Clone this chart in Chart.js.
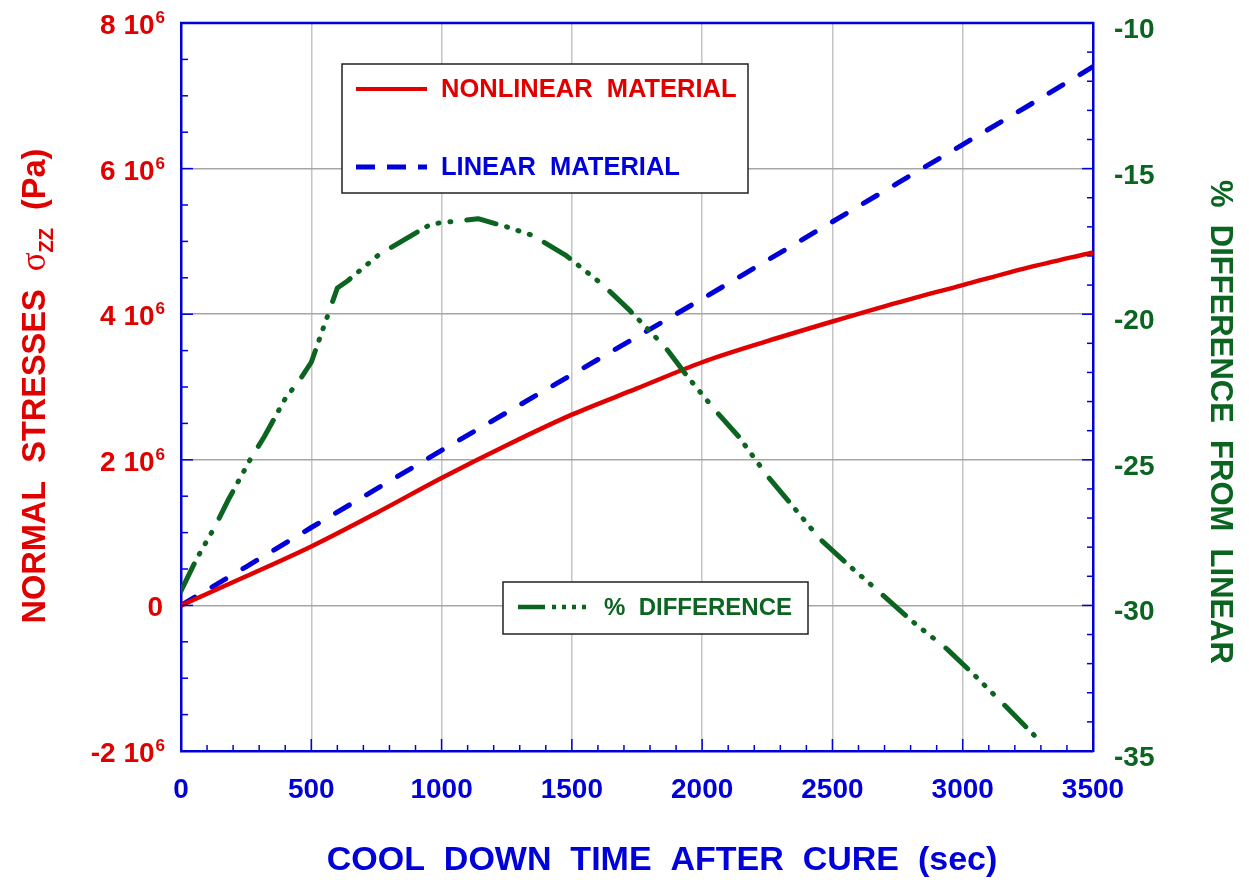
<!DOCTYPE html>
<html><head><meta charset="utf-8">
<script src="https://cdn.jsdelivr.net/npm/chart.js@4"></script>
<style>html,body{margin:0;padding:0;background:#fff}canvas{display:block}</style>
</head><body>
<canvas id="c" width="1249" height="880"></canvas>
<script>
// ---- data ----
const timeSec = [0,250,500,750,1000,1250,1500,1750,2000,2250,2500,2750,3000,3250,3500];
const nonlinearStressPa = [0,0.40e6,0.81e6,1.27e6,1.75e6,2.20e6,2.62e6,2.98e6,3.34e6,3.63e6,3.90e6,4.16e6,4.40e6,4.64e6,4.85e6];
const linearStressPa = [0,0.53e6,1.07e6,1.60e6,2.13e6,2.65e6,3.17e6,3.69e6,4.21e6,4.74e6,5.27e6,5.80e6,6.33e6,6.86e6,7.40e6];
const diffTimeSec = [0,60,130,180,265,320,400,460,500,600,640,760,960,1140,1250,1350,1480,1620,1720,1860,1940,2050,2140,2250,2330,2450,2560,2700,2800,2940,3040,3180,3290];
const diffPercent = [-29.5,-28.4,-27.3,-26.4,-25.0,-24.2,-22.9,-22.2,-21.65,-19.1,-18.85,-17.95,-16.9,-16.72,-17.0,-17.3,-18.0,-19.0,-19.85,-21.15,-22.1,-23.3,-24.2,-25.55,-26.4,-27.7,-28.6,-29.7,-30.5,-31.5,-32.35,-33.6,-34.6];
const stressTickValues = [-2e6,0,2e6,4e6,6e6,8e6];
const stressTickMantissa = ['-2','0','2','4','6','8'];
const diffTickValues = [-35,-30,-25,-20,-15,-10];
const seriesNames = ['NONLINEAR  MATERIAL','LINEAR  MATERIAL','%  DIFFERENCE'];
const xTitle = 'COOL  DOWN  TIME  AFTER  CURE  (sec)';
const rightTitle = '%  DIFFERENCE  FROM  LINEAR';

const RED = '#e00000', BLUE = '#0000d8', GREEN = '#0b6420';
const FONT = '"Liberation Sans", Arial, sans-serif';

const pts = (xs, ys) => xs.map((v, i) => ({x: v, y: ys[i]}));

const deco = {
  id: 'deco',
  afterDatasetsDraw(chart) {
    const {ctx, chartArea: a, scales: {x, y, y2}} = chart;
    ctx.save();
    ctx.strokeStyle = BLUE; ctx.lineWidth = 1.5;
    const seg = (x1, y1, x2, y2_) => { ctx.beginPath(); ctx.moveTo(x1, y1); ctx.lineTo(x2, y2_); ctx.stroke(); };
    for (let t = 0; t <= 3500; t += 100) {
      const px = x.getPixelForValue(t);
      seg(px, a.bottom, px, a.bottom - (t % 500 === 0 ? 12 : 6));
    }
    for (let v = -2e6; v <= 8e6; v += 0.5e6) {
      const py = y.getPixelForValue(v);
      seg(a.left, py, a.left + (v % 2e6 === 0 ? 12 : 7), py);
    }
    for (let v = -35; v <= -10; v += 1) {
      const py = y2.getPixelForValue(v);
      seg(a.right, py, a.right - (v % 5 === 0 ? 11 : 6), py);
    }
    ctx.lineWidth = 2.5;
    seg(a.left - 1, a.top, a.right + 1, a.top);

    // legend box 1
    ctx.fillStyle = '#fff'; ctx.strokeStyle = '#222'; ctx.lineWidth = 1.5;
    ctx.fillRect(342, 64, 406, 129); ctx.strokeRect(342, 64, 406, 129);
    ctx.lineCap = 'butt';
    ctx.strokeStyle = RED; ctx.lineWidth = 4; ctx.setLineDash([]);
    seg(356, 89, 427, 89);
    ctx.strokeStyle = BLUE; ctx.lineWidth = 5; ctx.setLineDash([19, 12]);
    seg(356, 167, 427, 167);
    ctx.setLineDash([]);
    ctx.font = 'bold 25.5px ' + FONT; ctx.textBaseline = 'middle'; ctx.textAlign = 'left';
    ctx.fillStyle = RED; ctx.fillText(seriesNames[0], 441, 90);
    ctx.fillStyle = BLUE; ctx.fillText(seriesNames[1], 441, 168);

    // legend box 2
    ctx.fillStyle = '#fff'; ctx.strokeStyle = '#222'; ctx.lineWidth = 1.5;
    ctx.fillRect(503, 582, 305, 52); ctx.strokeRect(503, 582, 305, 52);
    ctx.strokeStyle = GREEN; ctx.lineWidth = 4.5; ctx.setLineDash([27, 7, 4, 6, 4, 6, 4, 6, 4, 20]);
    seg(518, 607, 589, 607);
    ctx.setLineDash([]);
    ctx.font = 'bold 24px ' + FONT;
    ctx.fillStyle = GREEN; ctx.fillText(seriesNames[2], 604, 608);
    ctx.restore();
  },
  afterDraw(chart) {
    const {ctx, scales: {y, y2}} = chart;
    ctx.save();
    // left tick labels with superscript exponent
    ctx.fillStyle = RED; ctx.textBaseline = 'alphabetic'; ctx.textAlign = 'left';
    const rightEdge = 165;
    stressTickValues.forEach((v, i) => {
      const py = y.getPixelForValue(v) + 11;
      const base = stressTickMantissa[i] === '0' ? '0' : stressTickMantissa[i] + ' 10';
      const sup = stressTickMantissa[i] === '0' ? '' : '6';
      ctx.font = 'bold 17px ' + FONT;
      const sw = sup ? ctx.measureText(sup).width + 1 : 0;
      ctx.font = 'bold 28px ' + FONT;
      const bw = ctx.measureText(base).width;
      const x0 = rightEdge - sw - bw + (sup ? 0 : -2);
      ctx.fillText(base, x0, py);
      if (sup) { ctx.font = 'bold 17px ' + FONT; ctx.fillText(sup, x0 + bw + 1, py - 11); }
    });

    // right tick labels
    ctx.fillStyle = GREEN; ctx.font = 'bold 28px ' + FONT;
    diffTickValues.forEach(v => {
      ctx.fillText(String(v), 1114, y2.getPixelForValue(v) + 15);
    });

    // x title
    ctx.fillStyle = BLUE; ctx.textAlign = 'center'; ctx.textBaseline = 'alphabetic';
    ctx.font = 'bold 34px ' + FONT;
    ctx.fillText(xTitle, 662, 870);

    // left title (rotated) with sigma and subscript
    ctx.save();
    ctx.translate(45, 386); ctx.rotate(-Math.PI / 2);
    ctx.fillStyle = RED; ctx.textAlign = 'left';
    const parts = [
      {t: 'NORMAL  STRESSES  ', f: 'bold 32.5px ' + FONT, dy: 0},
      {t: 'σ', f: '35px "Liberation Serif", serif', dy: 0},
      {t: 'ZZ', f: 'bold 20px ' + FONT, dy: 8},
      {t: '  (Pa)', f: 'bold 32.5px ' + FONT, dy: 0}
    ];
    let total = 0;
    parts.forEach(p => { ctx.font = p.f; p.w = ctx.measureText(p.t).width; total += p.w; });
    let cx = -total / 2;
    parts.forEach(p => { ctx.font = p.f; ctx.fillText(p.t, cx, p.dy); cx += p.w; });
    ctx.restore();

    // right title (rotated)
    ctx.save();
    ctx.translate(1211, 422); ctx.rotate(Math.PI / 2);
    ctx.fillStyle = GREEN; ctx.textAlign = 'center'; ctx.textBaseline = 'alphabetic';
    ctx.font = 'bold 31px ' + FONT;
    ctx.fillText(rightTitle, 0, 0);
    ctx.restore();
    ctx.restore();
  }
};

new Chart(document.getElementById('c'), {
  type: 'line',
  data: {
    datasets: [
      {label: seriesNames[2], data: pts(diffTimeSec, diffPercent), yAxisID: 'y2', borderColor: GREEN,
       borderWidth: 5, borderDash: [30, 11, 1, 11, 1, 11, 1, 16], borderCapStyle: 'round', borderJoinStyle: 'round',
       pointRadius: 0, tension: 0, fill: false},
      {label: seriesNames[0], data: pts(timeSec, nonlinearStressPa), yAxisID: 'y', borderColor: RED,
       borderWidth: 4.5, borderJoinStyle: 'round', pointRadius: 0, cubicInterpolationMode: 'monotone', fill: false},
      {label: seriesNames[1], data: pts(timeSec, linearStressPa), yAxisID: 'y', borderColor: BLUE,
       borderWidth: 5, borderDash: [16, 20], borderCapStyle: 'round', pointRadius: 0, tension: 0, fill: false}
    ]
  },
  options: {
    responsive: false, animation: false, devicePixelRatio: 1,
    layout: {padding: {top: 23, left: 0, right: 0, bottom: 0}},
    plugins: {legend: {display: false}, tooltip: {enabled: false}},
    scales: {
      x: {
        type: 'linear', min: 0, max: 3500,
        ticks: {stepSize: 500, color: BLUE, font: {family: FONT, size: 28, weight: 'bold'}, padding: 22, maxRotation: 0,
                callback: v => String(v)},
        grid: {color: '#c4c4c4', lineWidth: 1.5, drawTicks: false, tickLength: 0},
        border: {display: true, color: BLUE, width: 2.5},
        afterFit: s => { s.height = 129; }
      },
      y: {
        type: 'linear', position: 'left', min: -2e6, max: 8e6,
        ticks: {stepSize: 2e6, display: false},
        grid: {color: '#a6a6a6', lineWidth: 1.5, drawTicks: false, tickLength: 0},
        border: {display: true, color: BLUE, width: 2.5},
        afterFit: s => { s.width = 181; }
      },
      y2: {
        type: 'linear', position: 'right', min: -35, max: -10,
        ticks: {stepSize: 5, display: false},
        grid: {drawOnChartArea: false, drawTicks: false, tickLength: 0},
        border: {display: true, color: BLUE, width: 2.5},
        afterFit: s => { s.width = 156; }
      }
    }
  },
  plugins: [deco]
});
</script>
</body></html>
